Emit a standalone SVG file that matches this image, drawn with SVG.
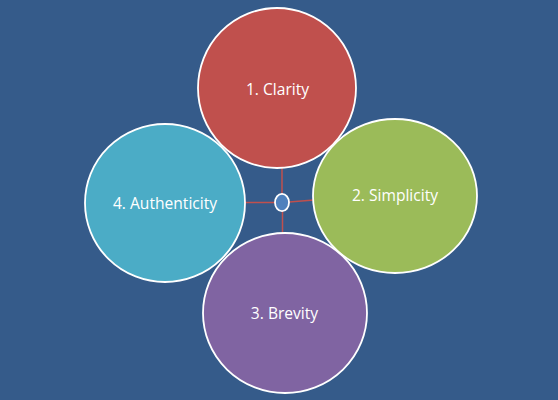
<svg xmlns="http://www.w3.org/2000/svg" width="558" height="400" viewBox="0 0 558 400">
<style>
.n{stroke:#FFFFFF;stroke-width:1.8}
.t{font-family:"Open Sans","Liberation Sans",sans-serif;font-size:15.6px;fill:#FFFFFF;text-anchor:middle}
.c{stroke:#C0504D;stroke-width:1.5;fill:none}
</style>
<rect width="558" height="400" fill="#355B8A"/>
<g id="connectors">
<line class="c" x1="282" y1="168" x2="282" y2="194"/>
<line class="c" x1="245" y1="202.5" x2="275" y2="202.5"/>
<line class="c" x1="289" y1="202" x2="314" y2="200"/>
<line class="c" x1="282.5" y1="211" x2="282.5" y2="233"/>
</g>
<g id="center"><ellipse class="n" cx="282" cy="202.5" rx="7" ry="8.7" fill="#4F81BD" stroke-width="1.5"/></g>
<g id="clarity"><ellipse class="n" cx="277" cy="88" rx="79" ry="80" fill="#C0504D"/><text class="t" x="277.5" y="95">1. Clarity</text></g>
<g id="simplicity"><ellipse class="n" cx="395" cy="196" rx="82" ry="77" fill="#9BBB59"/><text class="t" x="395" y="201">2. Simplicity</text></g>
<g id="brevity"><ellipse class="n" cx="285" cy="313" rx="82" ry="80" fill="#8064A2"/><text class="t" x="284.5" y="318.5">3. Brevity</text></g>
<g id="authenticity"><ellipse class="n" cx="165" cy="203" rx="80" ry="79" fill="#4BACC6"/><text class="t" x="165" y="208.5">4. Authenticity</text></g>
</svg>
